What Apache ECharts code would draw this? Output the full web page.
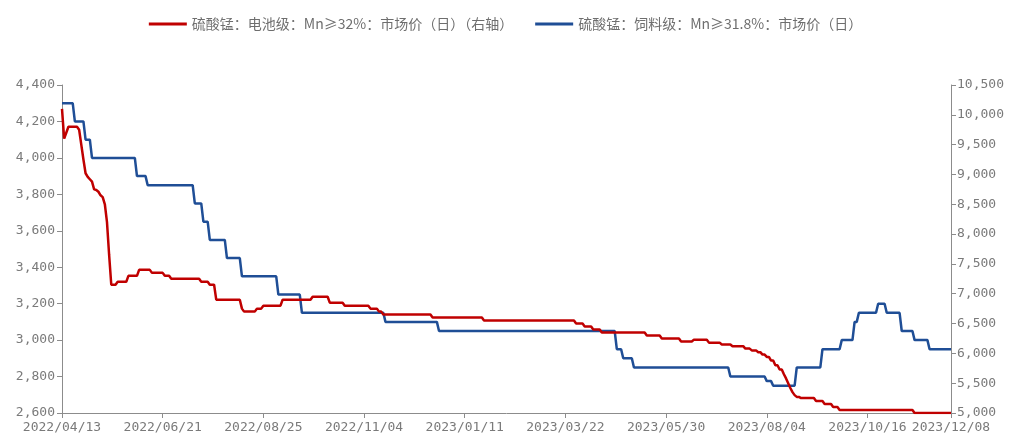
<!DOCTYPE html>
<html><head><meta charset="utf-8">
<script src="https://cdn.jsdelivr.net/npm/echarts@6/dist/echarts.min.js"></script>
<style>html,body{margin:0;padding:0;background:#fff}#c{width:1011px;height:437px}</style>
</head><body><div id="c"></div>
<script>
// ---- calendar (Chinese working days) ----
const startDate = '2022-04-13';
const endDate = '2023-12-08';
const holidays = ['2022-05-02','2022-05-03','2022-05-04','2022-06-03','2022-09-12',
  '2022-10-03','2022-10-04','2022-10-05','2022-10-06','2022-10-07',
  '2023-01-02','2023-01-23','2023-01-24','2023-01-25','2023-01-26','2023-01-27',
  '2023-04-05','2023-05-01','2023-05-02','2023-05-03','2023-06-22','2023-06-23',
  '2023-09-29','2023-10-02','2023-10-03','2023-10-04','2023-10-05','2023-10-06'];
const makeupWorkdays = ['2022-04-24','2022-05-07','2022-10-08','2022-10-09',
  '2023-01-28','2023-01-29','2023-04-23','2023-05-06','2023-06-25','2023-10-07','2023-10-08'];

// ---- tick labels ----
const tickLabels = ['2022/04/13','2022/06/21','2022/08/25','2022/11/04','2023/01/11',
  '2023/03/22','2023/05/30','2023/08/04','2023/10/16','2023/12/08'];

const seriesNames = ['硫酸锰：电池级：Mn≥32%：市场价（日）（右轴）', '硫酸锰：饲料级：Mn≥31.8%：市场价（日）'];

// ---- series values as step levels: level holds from point index "At" until next change ----
const redChangeAt = [0,1,2,3,8,9,10,11,12,13,14,15,16,17,18,19,20,21,22,23,26,31,36,42,48,51,65,69,72,84,85,91,94,103,117,125,132,144,148,150,173,197,240,244,248,252,273,280,289,295,302,308,313,319,322,325,327,329,331,333,335,337,338,339,340,341,342,343,345,352,356,360,363,398];
const redLevel    = [10100,9600,9700,9800,9750,9500,9250,9020,8960,8920,8880,8750,8740,8710,8650,8620,8500,8200,7650,7150,7200,7300,7400,7350,7300,7250,7200,7150,6900,6750,6700,6750,6800,6900,6950,6850,6800,6750,6700,6650,6600,6550,6500,6450,6400,6350,6300,6250,6200,6230,6180,6150,6120,6080,6050,6020,5980,5940,5880,5800,5730,5650,5580,5500,5420,5350,5300,5270,5250,5200,5150,5100,5050,5000];

const blueChangeAt = [0,6,11,14,35,40,62,66,69,77,84,101,112,151,176,259,262,267,312,329,332,343,355,364,370,372,381,385,392,398,405];
const blueLevel    = [4300,4200,4100,4000,3900,3850,3750,3650,3550,3450,3350,3250,3150,3100,3050,2950,2900,2850,2800,2775,2750,2850,2950,3000,3100,3150,3200,3150,3050,3000,2950];

function buildDays() {
  const out = [];
  const hol = new Set(holidays), mk = new Set(makeupWorkdays);
  let d = new Date(startDate + 'T00:00:00Z');
  const end = new Date(endDate + 'T00:00:00Z');
  while (d <= end) {
    const iso = d.toISOString().slice(0, 10);
    const wd = d.getUTCDay();
    const work = mk.has(iso) || (wd !== 0 && wd !== 6 && !hol.has(iso));
    if (work) out.push(iso.replace(/-/g, '/'));
    d = new Date(d.getTime() + 86400000);
  }
  return out;
}
const categories = buildDays();

function expand(at, lv, n) {
  const out = []; let k = 0;
  for (let i = 0; i < n; i++) {
    while (k + 1 < at.length && at[k + 1] <= i) k++;
    out.push(lv[k]);
  }
  return out;
}
const redData = expand(redChangeAt, redLevel, categories.length);
const blueData = expand(blueChangeAt, blueLevel, categories.length);

const axisColor = '#8c8c8c';
const labelColor = '#7a7a7a';
const numFont = 'DejaVu Sans Mono';
const fmt = v => v.toLocaleString('en-US');
const showTick = (idx, val) => tickLabels.indexOf(val) >= 0;

const chart = echarts.init(document.getElementById('c'), null, { renderer: 'canvas' });
chart.setOption({
  animation: false,
  backgroundColor: '#fff',
  legend: {
    top: 12, left: 'center', itemGap: 22,
    icon: 'rect', itemWidth: 38, itemHeight: 3,
    textStyle: { color: '#6e6e6e', fontSize: 14, fontFamily: 'Noto Sans CJK SC' },
    data: seriesNames
  },
  grid: { left: 62, right: 60, top: 85, bottom: 24 },
  xAxis: {
    type: 'category', data: categories, boundaryGap: false,
    axisLine: { lineStyle: { color: axisColor, width: 1 } },
    axisTick: { interval: showTick, length: 5, lineStyle: { color: axisColor } },
    axisLabel: { interval: showTick, color: labelColor, fontSize: 13, fontFamily: numFont, margin: 8, hideOverlap: false }
  },
  yAxis: [
    { type: 'value', min: 2600, max: 4400, interval: 200, position: 'left',
      splitLine: { show: false },
      axisLine: { show: true, lineStyle: { color: axisColor } },
      axisTick: { show: true, length: 5, lineStyle: { color: axisColor } },
      axisLabel: { formatter: fmt, color: labelColor, fontSize: 13, fontFamily: numFont, margin: 7 } },
    { type: 'value', min: 5000, max: 10500, interval: 500, position: 'right',
      splitLine: { show: false },
      axisLine: { show: true, lineStyle: { color: axisColor } },
      axisTick: { show: true, length: 5, lineStyle: { color: axisColor } },
      axisLabel: { formatter: fmt, color: labelColor, fontSize: 13, fontFamily: numFont, margin: 6 } }
  ],
  series: [
    { name: seriesNames[0], type: 'line', yAxisIndex: 1, data: redData, showSymbol: false, z: 4,
      itemStyle: { color: '#C00000' }, lineStyle: { color: '#C00000', width: 2.5 } },
    { name: seriesNames[1], type: 'line', yAxisIndex: 0, data: blueData, showSymbol: false, z: 3,
      itemStyle: { color: '#1F4E96' }, lineStyle: { color: '#1F4E96', width: 2.5 } }
  ]
});
</script></body></html>
